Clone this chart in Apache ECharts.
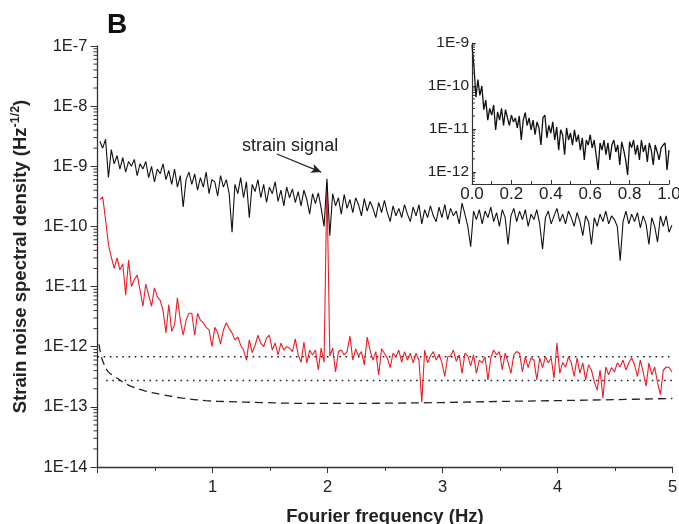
<!DOCTYPE html>
<html><head><meta charset="utf-8">
<script src="https://cdn.jsdelivr.net/npm/echarts@6/dist/echarts.min.js"></script>
<style>html,body{margin:0;padding:0;background:#fff}#c{width:679px;height:524px}</style>
</head><body><div id="c"></div>
<script>
// ---------- DATA ----------
const freqMain = [
0.02,0.045,0.07,0.095,0.12,0.145,0.17,0.195,0.22,0.245,0.27,0.295,0.32,0.345,0.37,0.395,0.42,0.445,0.47,0.495,
0.52,0.545,0.57,0.595,0.62,0.645,0.67,0.695,0.72,0.745,0.77,0.795,0.82,0.845,0.87,0.895,0.92,0.945,0.97,0.995,
1.02,1.045,1.07,1.095,1.12,1.145,1.17,1.195,1.22,1.245,1.27,1.295,1.32,1.345,1.37,1.395,1.42,1.445,1.47,1.495,
1.52,1.545,1.57,1.595,1.62,1.645,1.67,1.695,1.72,1.745,1.77,1.795,1.82,1.845,1.87,1.895,1.92,1.945,1.97,1.995,
2.02,2.045,2.07,2.095,2.12,2.145,2.17,2.195,2.22,2.245,2.27,2.295,2.32,2.345,2.37,2.395,2.42,2.445,2.47,2.495,
2.52,2.545,2.57,2.595,2.62,2.645,2.67,2.695,2.72,2.745,2.77,2.795,2.82,2.845,2.87,2.895,2.92,2.945,2.97,2.995,
3.02,3.045,3.07,3.095,3.12,3.145,3.17,3.195,3.22,3.245,3.27,3.295,3.32,3.345,3.37,3.395,3.42,3.445,3.47,3.495,
3.52,3.545,3.57,3.595,3.62,3.645,3.67,3.695,3.72,3.745,3.77,3.795,3.82,3.845,3.87,3.895,3.92,3.945,3.97,3.995,
4.02,4.045,4.07,4.095,4.12,4.145,4.17,4.195,4.22,4.245,4.27,4.295,4.32,4.345,4.37,4.395,4.42,4.445,4.47,4.495,
4.52,4.545,4.57,4.595,4.62,4.645,4.67,4.695,4.72,4.745,4.77,4.795,4.82,4.845,4.87,4.895,4.92,4.945,4.97,4.995
];
const blackNoise = [
2.6e-9,2.0e-9,2.8e-9,6.5e-10, 1.9e-9,1.1e-9,1.5e-9,9e-10, 1.4e-9,8e-10,1.2e-9,1.0e-9, 1.3e-9,7e-10,1.1e-9,9e-10, 1.2e-9,6.5e-10,1.0e-9,5.5e-10,
9e-10,7.5e-10,1.1e-9,6e-10, 8.5e-10,5e-10,9e-10,4.5e-10, 7e-10,2.1e-10,6e-10,8e-10, 5e-10,7.5e-10,4e-10,6.5e-10, 4.5e-10,8e-10,3.5e-10,6e-10,
5.5e-10,3.2e-10,7e-10,4.5e-10, 6e-10,3.5e-10,8e-11,5e-10, 3.5e-10,6.5e-10,3e-10,5.5e-10, 1.4e-10,5e-10,3.8e-10,6e-10, 3e-10,5e-10,2.5e-10,4.5e-10,
3.5e-10,5.5e-10,2.6e-10,4e-10, 2.2e-10,4.5e-10,3e-10,4.2e-10, 2.5e-10,3.8e-10,2.2e-10,4e-10, 2.8e-10,1.6e-10,3.5e-10,2.4e-10, 3.6e-10,2.0e-10,1.0e-10,6.2e-10,
7e-11,3.5e-10,2.2e-10,3.0e-10, 1.6e-10,3.4e-10,2.0e-10,2.8e-10, 1.7e-10,3.0e-10,2.3e-10,1.5e-10, 2.9e-10,1.8e-10,2.6e-10,2.0e-10, 1.4e-10,2.5e-10,1.7e-10,2.7e-10,
1.7e-10,1.2e-10,2.2e-10,1.5e-10, 2.0e-10,1.4e-10,2.3e-10,1.6e-10, 1.2e-10,2.1e-10,1.5e-10,2.3e-10, 1.1e-10,1.9e-10,1.4e-10,2.2e-10, 1.5e-10,1.2e-10,2.1e-10,1.4e-10,
2.3e-10,1.3e-10,2.0e-10,1.5e-10, 1.8e-10,1.1e-10,2.45e-10,1.6e-10, 1.0e-10,4.6e-11,1.8e-10,1.3e-10, 1.9e-10,1.1e-10,1.8e-10,1.4e-10, 2.1e-10,1.2e-10,1.7e-10,1.0e-10,
1.9e-10,1.4e-10,5e-11,1.5e-10, 2.0e-10,1.2e-10,1.8e-10,1.3e-10, 1.9e-10,1.0e-10,1.6e-10,1.3e-10, 1.9e-10,1.1e-10,4.2e-11,1.4e-10, 1.8e-10,1.1e-10,1.5e-10,2.0e-10,
1.2e-10,1.6e-10,1.1e-10,1.8e-10, 1.4e-10,1.0e-10,1.7e-10,1.2e-10, 7e-11,1.5e-10,1.2e-10,5e-11, 1.4e-10,1.0e-10,1.6e-10,1.2e-10, 1.8e-10,1.1e-10,1.5e-10,1.3e-10,
1.0e-10,2.7e-11,1.2e-10,1.8e-10, 1.1e-10,1.6e-10,1.2e-10,1.7e-10, 9.5e-11,1.5e-10,1.1e-10,5e-11, 1.4e-10,1.0e-10,5.5e-11,1.5e-10, 1.0e-10,1.5e-10,8e-11,1.05e-10
];
const redNoise = [
2.8e-10,3.1e-10,1.3e-10,5e-11, 3.1e-11,2.0e-11,3.0e-11,1.9e-11, 2.4e-11,7.2e-12,2.75e-11,1.0e-11, 1.3e-11,1.55e-11,8.7e-12,4.7e-12, 1.1e-11,7.2e-12,4.7e-12,9.5e-12,
6.8e-12,5.9e-12,4.0e-12,1.7e-12, 5e-12,1.8e-12,2.3e-12,6.5e-12, 2.75e-12,1.55e-12,2.75e-12,3.6e-12, 3.6e-12,1.55e-12,3.6e-12,2.75e-12, 2.5e-12,2.1e-12,1.9e-12,1.0e-12,
2.1e-12,1.7e-12,1.1e-12,1.9e-12, 2.5e-12,2.0e-12,1.7e-12,1.3e-12, 1.45e-12,1.05e-12,8.8e-13,6.0e-13, 1.3e-12,8e-13,1.05e-12,1.55e-12, 1.15e-12,1.0e-12,1.4e-12,1.55e-12,
8.8e-13,1.15e-12,7.3e-13,1.15e-12, 8.8e-13,1.0e-12,9.5e-13,8.3e-13, 1.35e-12,7.3e-13,5.5e-13,1.2e-12, 5.4e-13,8.8e-13,7.3e-13,8.8e-13, 4.1e-13,9.5e-13,5.5e-13,5.5e-10,
7e-13,9.5e-13,3.8e-13,8.3e-13, 8.8e-13,7.3e-13,8.3e-13,1.5e-12, 6e-13,9.2e-13,7e-13,8.3e-13, 5e-13,1.45e-12,8.8e-13,6e-13, 8.3e-13,3.4e-13,9.2e-13,7.8e-13,
6.5e-13,4.5e-13,7.8e-13,6.8e-13, 8.8e-13,5.5e-13,8.3e-13,6e-13, 7.8e-13,5.4e-13,7.8e-13,6e-13, 1.2e-13,8.8e-13,5.4e-13,7e-13, 8.3e-13,6e-13,7.5e-13,5.4e-13,
3.2e-13,6.8e-13,7e-13,8.8e-13, 5.7e-13,7.3e-13,3.6e-13,7.8e-13, 7e-13,4.8e-13,7.3e-13,3.6e-13, 6e-13,5.4e-13,6.8e-13,2.8e-13, 6.5e-13,8.8e-13,7.3e-13,8.3e-13,
4.1e-13,7.8e-13,5.5e-13,3.6e-13, 7.3e-13,8.3e-13,7.8e-13,3.8e-13, 6.8e-13,4.5e-13,6.5e-13,6e-13, 2.8e-13,6.5e-13,4.5e-13,6.8e-13, 5.4e-13,6.5e-13,3.0e-13,1.15e-12,
3.6e-13,5.5e-13,4.6e-13,6.8e-13, 5.4e-13,3.2e-13,6.5e-13,3.6e-13, 5.4e-13,2.8e-13,5e-13,4.1e-13, 2.6e-13,1.9e-13,4.1e-13,1.4e-13, 4.6e-13,3.4e-13,4.5e-13,3.8e-13,
5.4e-13,4.6e-13,6e-13,4.1e-13, 5.4e-13,6.5e-13,5e-13,3.2e-13, 6e-13,3.8e-13,2.2e-13,5.4e-13, 3.4e-13,4.6e-13,2.5e-13,1.6e-13, 4.1e-13,4.6e-13,4.5e-13,3.8e-13
];
const dashFreq = [0.013,0.03,0.05,0.09,0.15,0.27,0.41,0.56,0.74,0.94,1.14,1.43,1.66,2.0,2.5,3.0,3.5,4.0,4.5,5.0];
const dashVals = [1.1e-12,7.3e-13,5.5e-13,3.9e-13,3.2e-13,2.3e-13,1.85e-13,1.6e-13,1.4e-13,1.27e-13,1.22e-13,1.18e-13,1.15e-13,1.14e-13,1.15e-13,1.18e-13,1.23e-13,1.27e-13,1.32e-13,1.38e-13];
const dotUpperFreq = [0, 5];
const dotUpperVals = [6.8e-13, 6.8e-13];
const dotLowerFreq = [0.075, 5];
const dotLowerVals = [2.75e-13, 2.75e-13];
const insetFreq = [
0,0.01,0.02,0.03,0.04,0.05,0.06,0.07,0.08,0.09,0.1,0.11,0.12,0.13,0.14,0.15,0.16,0.17,0.18,0.19,
0.2,0.21,0.22,0.23,0.24,0.25,0.26,0.27,0.28,0.29,0.3,0.31,0.32,0.33,0.34,0.35,0.36,0.37,0.38,0.39,
0.4,0.41,0.42,0.43,0.44,0.45,0.46,0.47,0.48,0.49,0.5,0.51,0.52,0.53,0.54,0.55,0.56,0.57,0.58,0.59,
0.6,0.61,0.62,0.63,0.64,0.65,0.66,0.67,0.68,0.69,0.7,0.71,0.72,0.73,0.74,0.75,0.76,0.77,0.78,0.79,
0.8,0.81,0.82,0.83,0.84,0.85,0.86,0.87,0.88,0.89,0.9,0.91,0.92,0.93,0.94,0.95,0.96,0.97,0.98,0.99,1.0
];
const insetVals = [
9e-10,2.8e-10,5.5e-11,1.4e-10,6e-11,1.0e-10,2.8e-11,4.7e-11,1.6e-11,3e-11,2.1e-11,3.6e-11,9.5e-12,2.5e-11,1.6e-11,3e-11,1.2e-11,2.8e-11,1.8e-11,1.2e-11,
2.1e-11,1.45e-11,1.8e-11,1.05e-11,2e-11,5.5e-12,1.6e-11,2.4e-11,1.2e-11,1.8e-11,9.5e-12,1.6e-11,7.3e-12,1.45e-11,1.05e-11,4.2e-12,1.8e-11,2.1e-11,6.2e-12,1.2e-11,
8e-12,1.45e-11,5.5e-12,1.1e-11,3.2e-12,9.5e-12,7.3e-12,2.5e-12,1.05e-11,5.5e-12,8e-12,4.2e-12,9.5e-12,5e-12,7.3e-12,3.2e-12,6.2e-12,1.9e-12,5.5e-12,4.2e-12,
7.3e-12,3.6e-12,5.5e-12,2.5e-12,1.1e-12,4.7e-12,3.2e-12,5.5e-12,2.5e-12,4.7e-12,1.9e-12,4.2e-12,5.5e-12,2.9e-12,4.2e-12,1.45e-12,5e-12,3.2e-12,1.9e-12,8.5e-13,
5e-12,3.6e-12,5.5e-12,2.5e-12,4.2e-12,1.9e-12,5.5e-12,2.9e-12,4.2e-12,1.7e-12,4.7e-12,3.2e-12,1.45e-12,4.2e-12,2.9e-12,1.9e-12,3.6e-12,4.2e-12,4.7e-12,1.1e-12,3.2e-12
];
const mainYLabels = ['1E-14','1E-13','1E-12','1E-11','1E-10','1E-9','1E-8','1E-7'];
const mainYExp0 = -14;
const insetYLabels = ['1E-12','1E-11','1E-10','1E-9'];
const insetYExp0 = -12;
const mainXLabels = ['', '1', '2', '3', '4', '5'];
const insetXLabels = ['0.0','0.2','0.4','0.6','0.8','1.0'];
const annotText = 'strain signal';
const annotTextAt = [1.675, 2.2e-9];
const arrowFrom = [1.56, 1.6e-9];
const arrowTo = [1.945, 8.0e-10];

// ---------- CHART ----------
const FONT = '"Liberation Sans", Arial, Helvetica, sans-serif';
const AX = '#333';
const pairs = (xs, ys) => xs.map((x, i) => [x, ys[i]]);
function logLabel(labels, e0) {
  return v => {
    const l = Math.log10(v), e = Math.round(l);
    if (Math.abs(l - e) > 1e-6) return '';
    return labels[e - e0] || '';
  };
}
function minorVals(eMin, eMax, lo, hi) {
  const out = [];
  for (let e = eMin; e < eMax; e++) for (let m = 2; m <= 9; m++) {
    const v = m * Math.pow(10, e);
    if (v > lo && v < hi) out.push([0, v]);
  }
  return out;
}
function tickSeries(xi, yi, data, dir, len) {
  return {
    type: 'custom', xAxisIndex: xi, yAxisIndex: yi, silent: true, clip: false, z: 5,
    data: data,
    renderItem: (params, api) => {
      const p = api.coord([api.value(0), api.value(1)]);
      return { type: 'line', shape: { x1: p[0], y1: p[1], x2: p[0] + dir * len, y2: p[1] },
               style: { stroke: AX, lineWidth: 1 } };
    }
  };
}

const chart = echarts.init(document.getElementById('c'), null, { renderer: 'canvas' });
const option = {
  animation: false,
  backgroundColor: '#fff',
  textStyle: { fontFamily: FONT },
  grid: [
    { left: 97.5, right: 6.5, top: 46, bottom: 57, containLabel: false, outerBoundsMode: 'none' },
    { left: 472, top: 43, width: 197, height: 141, containLabel: false, outerBoundsMode: 'none' }
  ],
  xAxis: [
    { type: 'value', gridIndex: 0, min: 0, max: 5, interval: 1,
      axisLine: { show: true, onZero: false, lineStyle: { color: AX, width: 1.3 } },
      axisTick: { show: true, length: 6, lineStyle: { color: AX, width: 1 } },
      minorTick: { show: true, splitNumber: 2, length: 4, lineStyle: { color: AX, width: 1 } },
      splitLine: { show: false }, minorSplitLine: { show: false },
      axisLabel: { fontSize: 16.5, color: '#222', margin: 12, fontFamily: FONT,
        formatter: v => mainXLabels[Math.round(v)] },
      name: 'Fourier frequency (Hz)', nameLocation: 'middle', nameGap: 40,
      nameTextStyle: { fontSize: 18.5, fontWeight: 'bold', color: '#222', fontFamily: FONT } },
    { type: 'value', gridIndex: 1, min: 0, max: 1, interval: 0.2,
      axisLine: { show: true, onZero: false, lineStyle: { color: AX, width: 1.2 } },
      axisTick: { show: true, inside: true, length: 4, lineStyle: { color: AX, width: 1 } },
      minorTick: { show: true, splitNumber: 2, length: 3, lineStyle: { color: AX, width: 1 } },
      splitLine: { show: false }, minorSplitLine: { show: false },
      axisLabel: { fontSize: 17, color: '#222', margin: 2, fontFamily: FONT,
        formatter: v => insetXLabels[Math.round(v * 5)] } }
  ],
  yAxis: [
    { type: 'log', logBase: 10, gridIndex: 0, min: 1e-14, max: 1e-7,
      axisLine: { show: true, onZero: false, lineStyle: { color: AX, width: 1.3 } },
      axisTick: { show: true, length: 7, lineStyle: { color: AX, width: 1 } },
      splitLine: { show: false },
      axisLabel: { fontSize: 16.5, color: '#222', margin: 10, fontFamily: FONT,
        formatter: logLabel(mainYLabels, mainYExp0) },
      name: '{a|Strain noise spectral density (Hz}{s|-1/2}{a|)}',
      nameLocation: 'middle', nameGap: 66,
      nameTextStyle: { fontFamily: FONT, rich: {
        a: { fontSize: 18.5, fontWeight: 'bold', color: '#222', fontFamily: FONT, lineHeight: 22 },
        s: { fontSize: 12.5, fontWeight: 'bold', color: '#222', fontFamily: FONT, lineHeight: 13, verticalAlign: 'top' } } } },
    { type: 'log', logBase: 10, gridIndex: 1, min: 5.2e-13, max: 1e-9,
      axisLine: { show: true, onZero: false, lineStyle: { color: AX, width: 1.2 } },
      axisTick: { show: true, inside: true, length: 4, lineStyle: { color: AX, width: 1 } },
      splitLine: { show: false },
      axisLabel: { fontSize: 15.5, color: '#222', margin: 3, fontFamily: FONT,
        formatter: logLabel(insetYLabels, insetYExp0) } }
  ],
  series: [
    tickSeries(0, 0, minorVals(-14, -7, 1e-14, 1e-7), -1, 4),
    tickSeries(1, 1, minorVals(-13, -9, 5.2e-13, 1e-9), 1, 3),
    { type: 'line', xAxisIndex: 0, yAxisIndex: 0, data: pairs(dotUpperFreq, dotUpperVals),
      symbol: 'none', silent: true, lineStyle: { color: '#222', width: 1.6, type: [1.6, 4.6] }, z: 2 },
    { type: 'line', xAxisIndex: 0, yAxisIndex: 0, data: pairs(dotLowerFreq, dotLowerVals),
      symbol: 'none', silent: true, lineStyle: { color: '#222', width: 1.6, type: [1.6, 4.6] }, z: 2 },
    { type: 'line', xAxisIndex: 0, yAxisIndex: 0, data: pairs(dashFreq, dashVals), smooth: 0.4,
      symbol: 'none', silent: true, lineStyle: { color: '#222', width: 1.3, type: [8, 5] }, z: 2 },
    { type: 'line', xAxisIndex: 0, yAxisIndex: 0, data: pairs(freqMain, redNoise),
      symbol: 'none', silent: true, lineStyle: { color: '#ee1c25', width: 1.1 }, z: 3 },
    { type: 'line', xAxisIndex: 0, yAxisIndex: 0, data: pairs(freqMain, blackNoise),
      symbol: 'none', silent: true, lineStyle: { color: '#111', width: 1.1 }, z: 4,
      markLine: { silent: true, symbol: ['none', 'arrow'], symbolSize: [7, 10], animation: false,
        lineStyle: { color: '#222', width: 1.2, type: 'solid' }, label: { show: false },
        data: [[{ coord: arrowFrom }, { coord: arrowTo }]] } },
    { type: 'line', xAxisIndex: 1, yAxisIndex: 1, data: pairs(insetFreq, insetVals),
      symbol: 'none', silent: true, lineStyle: { color: '#111', width: 1.3 }, z: 4 }
  ]
};
chart.setOption(option);
const tp = chart.convertToPixel({ gridIndex: 0 }, annotTextAt);
chart.setOption({
  graphic: [
    { type: 'text', left: 107, top: 11, z: 10,
      style: { text: 'B', font: 'bold 28px ' + FONT, fill: '#111' } },
    { type: 'text', x: tp[0], y: tp[1], z: 10,
      style: { text: annotText, font: '18px ' + FONT, fill: '#222',
               align: 'center', verticalAlign: 'middle', textAlign: 'center', textVerticalAlign: 'middle' } }
  ]
});
</script></body></html>
